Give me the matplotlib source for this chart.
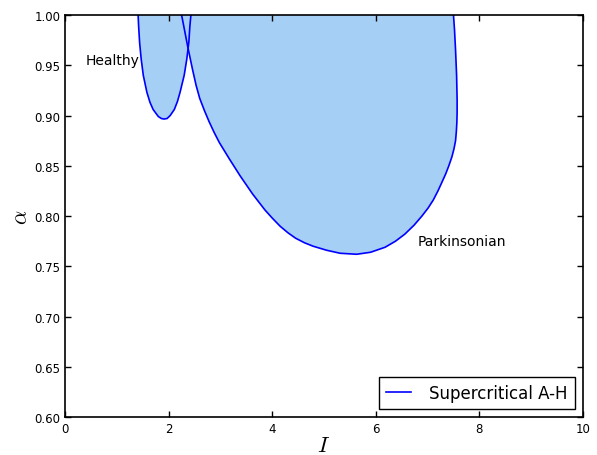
import numpy as np
import matplotlib
matplotlib.use('Agg')
import matplotlib.pyplot as plt

plt.rcParams['mathtext.fontset'] = 'cm'
plt.rcParams['xtick.direction'] = 'in'
plt.rcParams['ytick.direction'] = 'in'

# healthy region boundary (I, alpha)
healthy_I = [1.41, 1.42, 1.44, 1.47, 1.51, 1.58, 1.64, 1.70, 1.80, 1.86, 1.91, 1.97, 2.03, 2.11, 2.17, 2.22, 2.30, 2.35, 2.39, 2.41, 2.43]
healthy_a = [1.000, 0.989, 0.972, 0.956, 0.940, 0.923, 0.913, 0.906, 0.899, 0.897, 0.8965, 0.897, 0.900, 0.906, 0.914, 0.923, 0.940, 0.956, 0.973, 0.989, 1.000]

# parkinsonian region boundary
park_I = [2.25, 2.31, 2.37, 2.46, 2.53, 2.60, 2.69, 2.78, 2.88, 2.98, 3.17, 3.38, 3.62, 3.86, 4.00, 4.15, 4.30, 4.45, 4.62, 4.79, 5.05, 5.31, 5.63,
          5.90, 6.18, 6.38, 6.56, 6.74, 6.89, 7.01, 7.11, 7.20, 7.28, 7.35, 7.41, 7.47, 7.51, 7.54, 7.555, 7.565, 7.57, 7.57, 7.56, 7.54, 7.52, 7.50]
park_a = [1.000, 0.984, 0.968, 0.946, 0.930, 0.917, 0.905, 0.894, 0.883, 0.873, 0.857, 0.840, 0.822, 0.806, 0.798, 0.790, 0.7835, 0.778, 0.7735, 0.770, 0.766, 0.763, 0.762,
          0.764, 0.769, 0.775, 0.782, 0.791, 0.800, 0.808, 0.816, 0.825, 0.834, 0.842, 0.850, 0.859, 0.867, 0.875, 0.884, 0.893, 0.903, 0.916, 0.940, 0.965, 0.985, 1.000]

fill_col = '#a6cff5'
line_col = '#0000ff'

fig = plt.figure(figsize=(5.97, 4.56), dpi=100)
ax = fig.add_axes([0.109, 0.083, 0.8675, 0.882])

ax.fill(healthy_I, healthy_a, color=fill_col, lw=0)
ax.fill(park_I, park_a, color=fill_col, lw=0)
ax.plot(healthy_I, healthy_a, color=line_col, lw=1.2, label='Supercritical A-H')
ax.plot(park_I, park_a, color=line_col, lw=1.2)

ax.text(0.39, 0.955, 'Healthy', fontsize=10, va='center')
ax.text(6.81, 0.775, 'Parkinsonian', fontsize=10, va='center')

ax.set_xlim(0, 10)
ax.set_ylim(0.6, 1.0)
ax.set_xticks([0, 2, 4, 6, 8, 10])
ax.set_yticks(np.arange(0.60, 1.001, 0.05))
ax.set_yticklabels(['%.2f' % v for v in np.arange(0.60, 1.001, 0.05)])
ax.tick_params(labelsize=8.5, top=True, right=True, length=4, width=1)
for s in ax.spines.values():
    s.set_linewidth(1.2)

ax.set_xlabel(r'$I$', fontsize=16, labelpad=0)
ax.set_ylabel(r'$\alpha$', fontsize=16, labelpad=2)

leg = ax.legend(loc='lower right', fontsize=12, fancybox=False, framealpha=1,
                handlelength=1.5, handletextpad=1.1, borderaxespad=0.5)
leg.get_frame().set_edgecolor('black')

fig.savefig('out.png', dpi=100)
